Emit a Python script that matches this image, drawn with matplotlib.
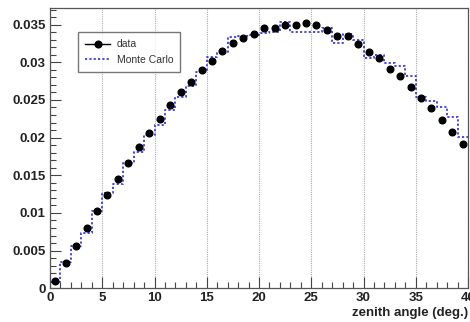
import numpy as np
import matplotlib
matplotlib.use("Agg")
import matplotlib.pyplot as plt
from matplotlib.lines import Line2D
from matplotlib.ticker import MultipleLocator

plt.rcParams['font.family'] = ['Liberation Sans', 'DejaVu Sans']

# 1-degree bins of zenith angle, 0..40 deg
bin_edges = np.arange(0, 41, 1)
bin_centers = bin_edges[:-1] + 0.5

data_values = [
    0.0010, 0.0033, 0.0056, 0.0080, 0.0103, 0.0124, 0.0145, 0.0166, 0.0188, 0.0206,
    0.0225, 0.0243, 0.0260, 0.0274, 0.0290, 0.0301, 0.0315, 0.0326, 0.0332, 0.0338,
    0.0345, 0.0346, 0.0350, 0.0349, 0.0352, 0.0350, 0.0343, 0.0335, 0.0335, 0.0324,
    0.0314, 0.0305, 0.0291, 0.0282, 0.0267, 0.0252, 0.0239, 0.0223, 0.0208, 0.0192,
]

mc_values = [
    0.0008, 0.0035, 0.0056, 0.0073, 0.0102, 0.0126, 0.0139, 0.0166, 0.0181, 0.0203,
    0.0217, 0.0236, 0.0254, 0.0268, 0.0287, 0.0307, 0.0312, 0.0333, 0.0335, 0.0336,
    0.0339, 0.0340, 0.0354, 0.0340, 0.0340, 0.0340, 0.0345, 0.0326, 0.0338, 0.0329,
    0.0306, 0.0309, 0.0299, 0.0295, 0.0282, 0.0254, 0.0249, 0.0240, 0.0227, 0.0201,
]

x_ticks = [0, 5, 10, 15, 20, 25, 30, 35, 40]
x_tick_labels = ["0", "5", "10", "15", "20", "25", "30", "35", "40"]
y_ticks = [0, 0.005, 0.01, 0.015, 0.02, 0.025, 0.03, 0.035]
y_tick_labels = ["0", "0.005", "0.01", "0.015", "0.02", "0.025", "0.03", "0.035"]

W, H = 470, 322
fig = plt.figure(figsize=(W / 100, H / 100), dpi=100)
ax = fig.add_axes([50 / W, (H - 288.3) / H, 418 / W, (288.3 - 8) / H])

mc_blue = '#3a3adf'
mc_step = np.append(mc_values, mc_values[-1])
ax.step(bin_edges, mc_step, where='post', color=mc_blue, lw=1.3,
        linestyle=(0, (1.2, 1.2)), zorder=2)
ax.plot(bin_centers, data_values, 'o', color='black', markersize=4.8, zorder=3)

ax.set_xlim(0, 40)
ax.set_ylim(0, 0.0372)
ax.set_xticks(x_ticks)
ax.set_xticklabels(x_tick_labels)
ax.set_yticks(y_ticks)
ax.set_yticklabels(y_tick_labels)
ax.xaxis.set_minor_locator(MultipleLocator(1))
ax.yaxis.set_minor_locator(MultipleLocator(0.001))

ax.tick_params(which='both', direction='in', top=False, right=False, width=0.8,
               color='#444444')
ax.tick_params(which='major', length=8, labelsize=9.5, pad=3)
ax.tick_params(which='minor', length=4)
for lbl in ax.get_xticklabels() + ax.get_yticklabels():
    lbl.set_fontweight('bold')
    lbl.set_color('#222222')

ax.grid(axis='x', which='major', color='#aaaaaa', linestyle=(0, (1, 1)), lw=0.8)
for s in ax.spines.values():
    s.set_color('#555555')
    s.set_linewidth(0.9)

fig.text(468 / W, 1 - 313 / H, "zenith angle (deg.)", ha='right', va='center',
         fontsize=9.5, fontweight='bold', color='#222222')

handles = [
    Line2D([], [], color='black', marker='o', markersize=4.8, lw=1.0),
    Line2D([], [], color=mc_blue, lw=1.3, linestyle=(0, (1.2, 1.2))),
]
leg = ax.legend(handles, ["data", "Monte Carlo"], loc='upper left',
                bbox_to_anchor=((78 - 50) / 418, (288.3 - 32) / 280.3),
                borderaxespad=0.0,
                fontsize=7.5, frameon=True, fancybox=False, handlelength=2.4,
                borderpad=0.7, labelspacing=0.55, handletextpad=0.6)
leg.get_frame().set_edgecolor('#555555')
leg.get_frame().set_linewidth(1.0)
for t in leg.get_texts():
    t.set_color('#333333')

fig.savefig("out.png", dpi=100)
